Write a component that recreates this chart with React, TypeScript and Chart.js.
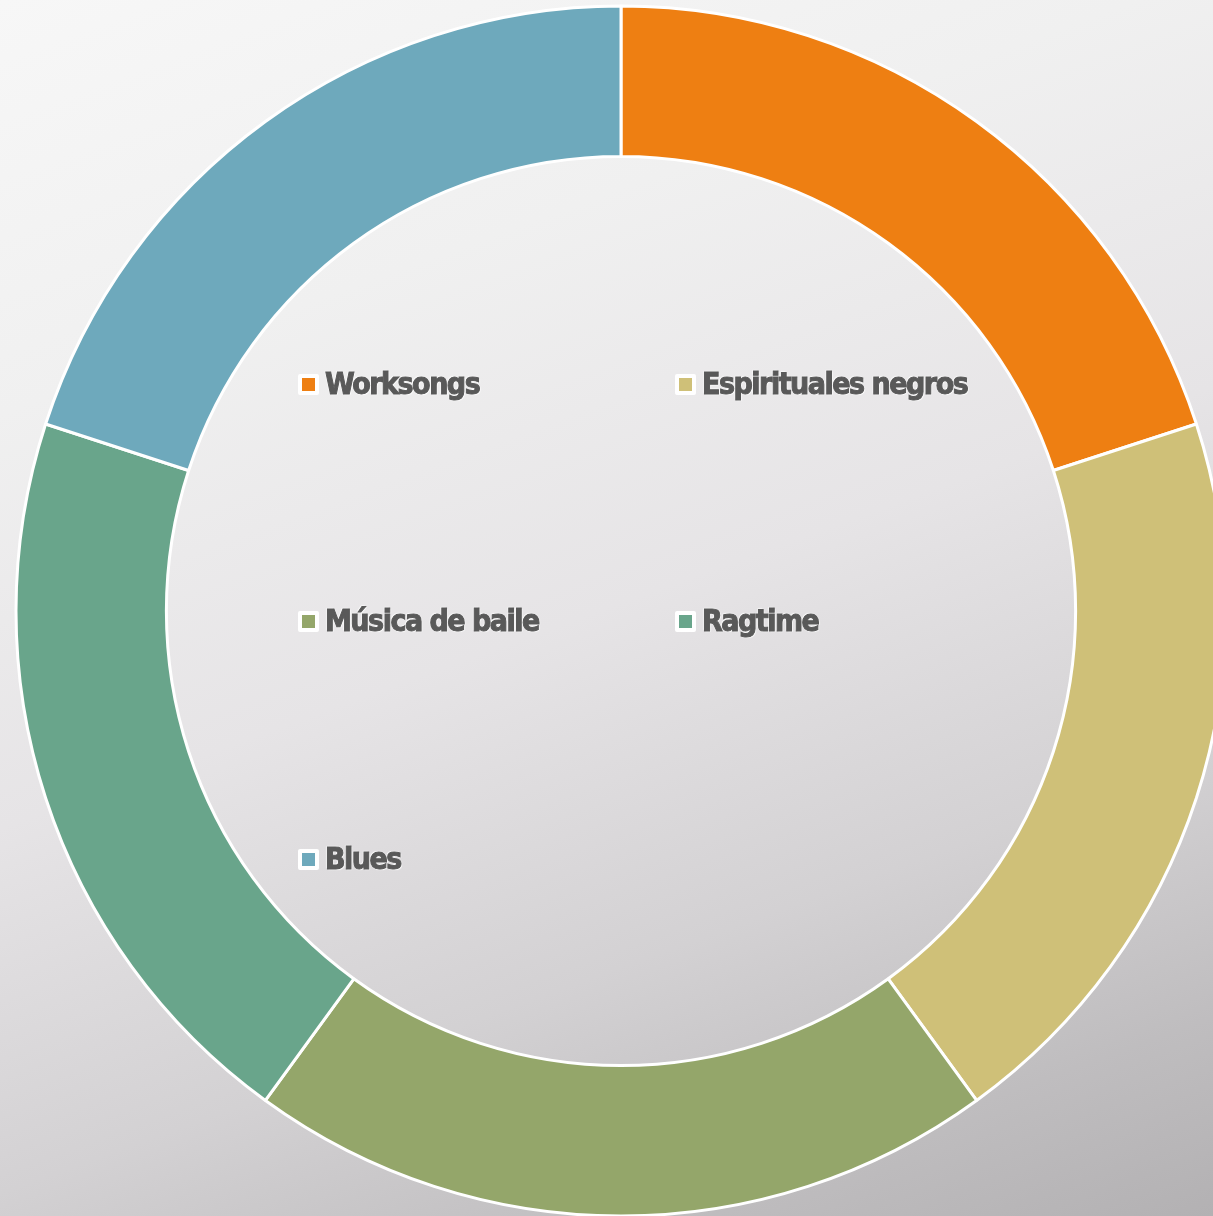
import React, { useEffect, useRef } from "react";
import { Chart, registerables } from "chart.js";

Chart.register(...registerables);

const categories = ["Worksongs", "Espirituales negros", "Música de baile", "Ragtime", "Blues"];
const values = [1, 1, 1, 1, 1];
const colors = ["#ee7f12", "#cfc078", "#94a66a", "#69a58b", "#6ea9bc"];

const W = 1213;
const H = 1216;
const CX = 621;
const CY = 611;

const legendCols = [298, 675];
const legendRows = [384, 621, 859];

export default function App() {
  const ref = useRef<HTMLCanvasElement | null>(null);
  useEffect(() => {
    document.body.style.margin = "0";
    document.body.style.overflow = "hidden";
    const ctx = ref.current!.getContext("2d")!;
    const chart = new Chart(ctx, {
      type: "doughnut",
      data: {
        labels: categories,
        datasets: [
          {
            data: values,
            backgroundColor: colors,
            borderColor: "#ffffff",
            borderWidth: 3,
          },
        ],
      },
      options: {
        responsive: false,
        animation: false,
        radius: 605,
        cutout: 458,
        layout: { padding: 0 },
        plugins: {
          legend: { display: false },
          tooltip: { enabled: false },
        },
      },
    });
    return () => chart.destroy();
  }, []);

  return (
    <div
      style={{
        position: "relative",
        width: W,
        height: H,
        overflow: "hidden",
        background:
          "linear-gradient(160deg, #f7f7f7 0%, #f0f0f0 25%, #e6e4e6 50%, #d3d1d3 72%, #bfbdbf 88%, #b3b1b3 100%)",
      }}
    >
      <canvas
        ref={ref}
        width={CX * 2}
        height={CY * 2}
        style={{ position: "absolute", left: 0, top: 0, width: CX * 2, height: CY * 2 }}
      />
      {categories.map((c, i) => {
        const x = legendCols[i % 2];
        const y = legendRows[Math.floor(i / 2)];
        return (
          <div
            key={c}
            style={{
              position: "absolute",
              left: x,
              top: y - 20,
              height: 40,
              display: "flex",
              alignItems: "center",
              whiteSpace: "nowrap",
            }}
          >
            <span
              style={{
                display: "inline-block",
                width: 13,
                height: 13,
                background: colors[i],
                border: "4px solid #ffffff",
                borderRadius: 2,
                marginRight: 6,
              }}
            />
            <span
              style={{
                fontFamily: "'Liberation Sans Narrow', 'DejaVu Sans Condensed', 'DejaVu Sans', sans-serif",
                fontStretch: "condensed",
                fontWeight: 700,
                fontSize: 30,
                lineHeight: "40px",
                color: "#595959",
                letterSpacing: "-1.5px",
                WebkitTextStroke: "1px #595959",
                textShadow:
                  "0 0 2px #ffffff, 1px 1px 1px #ffffff, -1px -1px 1px #ffffff",
              }}
            >
              {c}
            </span>
          </div>
        );
      })}
    </div>
  );
}
